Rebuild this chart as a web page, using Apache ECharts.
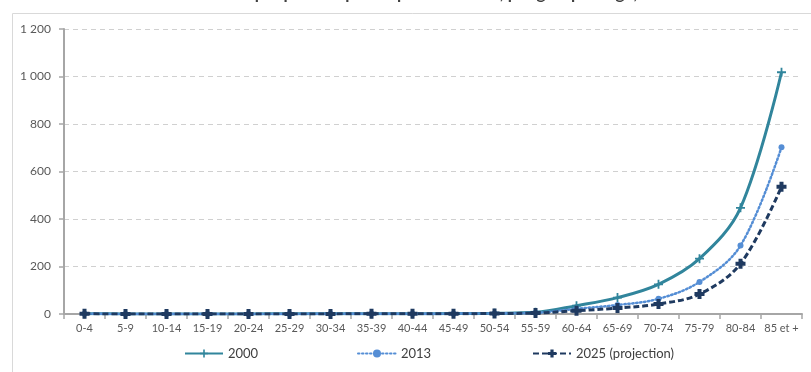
<!DOCTYPE html>
<html>
<head>
<meta charset="utf-8">
<script src="https://cdn.jsdelivr.net/npm/echarts@6/dist/echarts.min.js"></script>
<style>
html,body{margin:0;padding:0;background:#fff;}
#chart{width:811px;height:372px;}
</style>
</head>
<body>
<div id="chart"></div>
<script>
const categories = ['0-4','5-9','10-14','15-19','20-24','25-29','30-34','35-39','40-44','45-49','50-54','55-59','60-64','65-69','70-74','75-79','80-84','85 et +'];
const values2000 = [1, 0.5, 0.5, 0.5, 0.5, 0.6, 0.7, 0.9, 1.2, 2, 3, 7, 35, 69, 125, 233, 447, 1018];
const values2013 = [0.8, 0.4, 0.4, 0.4, 0.4, 0.5, 0.6, 0.7, 1, 1.5, 2.5, 5, 22, 38, 64, 135, 288, 702];
const values2025 = [0.7, 0.3, 0.3, 0.3, 0.3, 0.4, 0.5, 0.6, 0.8, 1.2, 2, 4, 14, 25, 42, 84, 212, 536];
const yTicks = [0, 200, 400, 600, 800, 1000, 1200];
const seriesNames = ['2000', '2013', '2025 (projection)'];
const titleText = "Taux de mortalité par pneumopathie pour 100 000, par groupe d'âge, France";

const FONT = 'Lato';
const thinPlus = 'path://M4,0h2v4h4v2h-4v4h-2v-4h-4v-2h4z';
const thickPlus = 'path://M3,0h4v3h3v4h-3v3h-4v-3h-3v-4h3z';

const chart = echarts.init(document.getElementById('chart'), null, {renderer: 'canvas'});
function fmt(v){ return String(v).replace(/\B(?=(\d{3})+(?!\d))/g, ' '); }

const legendBase = {
  bottom: 12, padding: 0, itemWidth: 38, itemHeight: 10, itemGap: 6,
  textStyle: {fontFamily: FONT, fontSize: 13, color: '#404040'}
};
chart.setOption({
  animation: false,
  textStyle: {fontFamily: FONT},
  title: {
    text: titleText, left: 'center', top: -21,
    textStyle: {fontFamily: FONT, fontSize: 17, fontWeight: 'bold', color: '#404040', lineHeight: 20}
  },
  graphic: [{
    type: 'rect', left: 10, top: 11, silent: true,
    shape: {width: 900, height: 500},
    style: {fill: 'none', stroke: '#D9D9D9', lineWidth: 1}
  }],
  legend: [
    Object.assign({}, legendBase, {left: 184, data: [seriesNames[0]]}),
    Object.assign({}, legendBase, {left: 357, data: [seriesNames[1]]}),
    Object.assign({}, legendBase, {left: 532, data: [seriesNames[2]]})
  ],
  grid: {left: 64, right: 9, top: 29, bottom: 58, containLabel: false},
  xAxis: {
    type: 'category', data: categories, boundaryGap: true,
    axisLine: {lineStyle: {color: '#A6A6A6', width: 2}},
    axisTick: {show: true, interval: 0, length: 5, lineStyle: {color: '#A6A6A6', width: 1.5}},
    axisLabel: {interval: 0, color: '#595959', fontSize: 11, fontFamily: FONT, margin: 9}
  },
  yAxis: {
    type: 'value', min: yTicks[0], max: yTicks[yTicks.length-1], interval: 200,
    axisLine: {show: true, lineStyle: {color: '#A6A6A6', width: 2}},
    axisTick: {show: true, length: 5, lineStyle: {color: '#A6A6A6', width: 1.5}},
    axisLabel: {color: '#595959', fontSize: 12, fontFamily: FONT, margin: 13, formatter: fmt},
    splitLine: {lineStyle: {color: '#D0D0D0', type: [5, 4], width: 1.2}}
  },
  series: [
    {
      name: seriesNames[0], type: 'line', data: values2000, smooth: 0.35,
      symbol: thinPlus, symbolSize: 9, showAllSymbol: true,
      lineStyle: {color: '#31859C', width: 3},
      itemStyle: {color: '#31859C'}, z: 2
    },
    {
      name: seriesNames[1], type: 'line', data: values2013, smooth: 0.35,
      symbol: 'circle', symbolSize: 6, showAllSymbol: true,
      lineStyle: {color: '#558ED5', width: 2.5, type: [1.5, 2.5], cap: 'round'},
      itemStyle: {color: '#558ED5'}, z: 3
    },
    {
      name: seriesNames[2], type: 'line', data: values2025, smooth: 0.35,
      symbol: thickPlus, symbolSize: 10, showAllSymbol: true,
      lineStyle: {color: '#1F3A60', width: 3, type: [6, 3]},
      itemStyle: {color: '#1F3A60'}, z: 4
    }
  ]
});
</script>
</body>
</html>
